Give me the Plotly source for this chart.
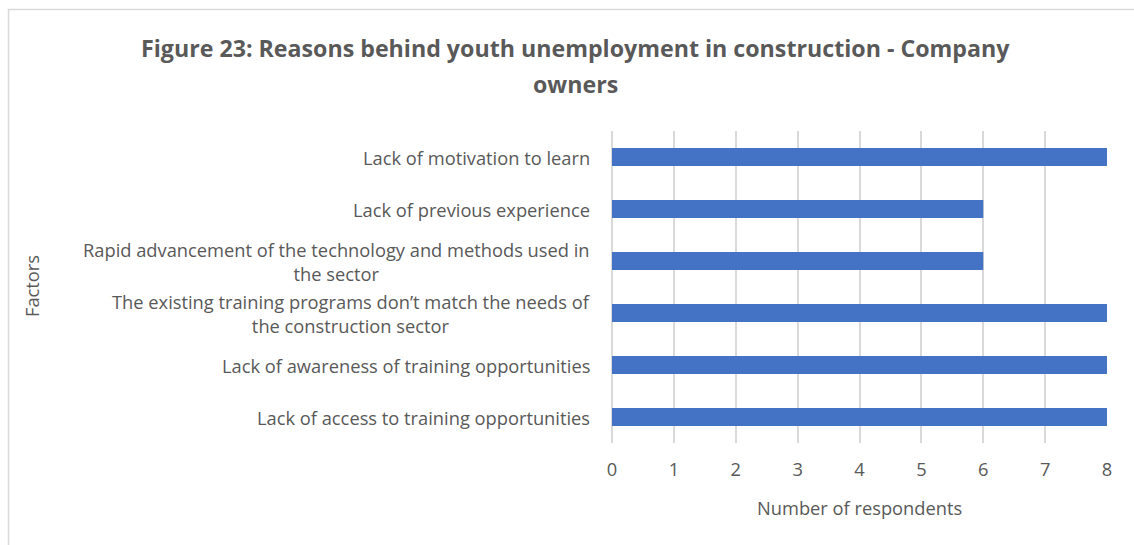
import plotly.graph_objects as go

# Survey responses: reasons behind youth unemployment (company owners)
factors = [
    "Lack of access to training opportunities",
    "Lack of awareness of training opportunities",
    "The existing training programs don\u2019t match the needs of<br>the construction sector",
    "Rapid advancement of the technology and methods used in<br>the sector",
    "Lack of previous experience",
    "Lack of motivation to learn",
]
respondents = [8, 8, 8, 6, 6, 8]
x_ticks = [0, 1, 2, 3, 4, 5, 6, 7, 8]
title_lines = [
    "Figure 23: Reasons behind youth unemployment in construction - Company",
    "owners",
]

W, H = 1134, 545
ML, MR, MT, MB = 612, 27, 131, 102
FONT = "Open Sans"
GREY = "#595959"
LABEL_SIZE = 18.3
pw, ph = W - ML - MR, H - MT - MB


def px_x(x):
    return (x - ML) / pw


def px_y(y):
    return (H - MB - y) / ph


fig = go.Figure(
    go.Bar(
        x=respondents,
        y=factors,
        orientation="h",
        marker=dict(color="#4472C4", line=dict(width=0)),
        width=0.35,
        hoverinfo="x+y",
    )
)

# Category labels as centred multi-line annotations
for f in factors:
    fig.add_annotation(
        x=0, xref="paper", y=f, yref="y",
        text=f, showarrow=False, xanchor="right", yanchor="middle",
        align="center", xshift=-20,
        font=dict(family=FONT, size=LABEL_SIZE, color=GREY),
    )

# Two-line bold title
for line, yc in zip(title_lines, [48, 84]):
    fig.add_annotation(
        x=px_x(575), xref="paper", y=px_y(yc), yref="paper",
        text=f"<b>{line}</b>", showarrow=False,
        xanchor="center", yanchor="middle",
        font=dict(family=FONT, size=23.2, color=GREY),
    )

# Axis titles
fig.add_annotation(
    x=0.5, xref="paper", y=px_y(507), yref="paper",
    text="Number of respondents", showarrow=False,
    xanchor="center", yanchor="middle",
    font=dict(family=FONT, size=LABEL_SIZE, color=GREY),
)
fig.add_annotation(
    x=px_x(31), xref="paper", y=px_y(286), yref="paper",
    text="Factors", showarrow=False, textangle=-90,
    xanchor="center", yanchor="middle",
    font=dict(family=FONT, size=LABEL_SIZE, color=GREY),
)

# Chart frame (extends past the right and bottom edges)
fig.add_shape(
    type="rect", xref="paper", yref="paper",
    x0=px_x(8.5), x1=px_x(W + 20),
    y0=px_y(H + 20), y1=px_y(9.5),
    line=dict(color="#D9D9D9", width=1.5), fillcolor="rgba(0,0,0,0)",
    layer="below",
)

fig.update_layout(
    width=W, height=H,
    margin=dict(l=ML, r=MR, t=MT, b=MB),
    paper_bgcolor="white", plot_bgcolor="white",
    showlegend=False,
    xaxis=dict(
        range=[0, 8], tickvals=x_ticks, showgrid=True,
        gridcolor="#D9D9D9", gridwidth=1.5,
        zeroline=True, zerolinecolor="#D9D9D9", zerolinewidth=1.5,
        showline=False, ticks="",
        tickfont=dict(family=FONT, size=LABEL_SIZE, color=GREY),
        ticklabelstandoff=14,
        fixedrange=True,
    ),
    yaxis=dict(
        categoryorder="array", categoryarray=factors,
        range=[-0.5, 5.5], showticklabels=False,
        showgrid=False, zeroline=False, showline=False, ticks="",
        fixedrange=True,
    ),
)

fig.write_html("out.html")
